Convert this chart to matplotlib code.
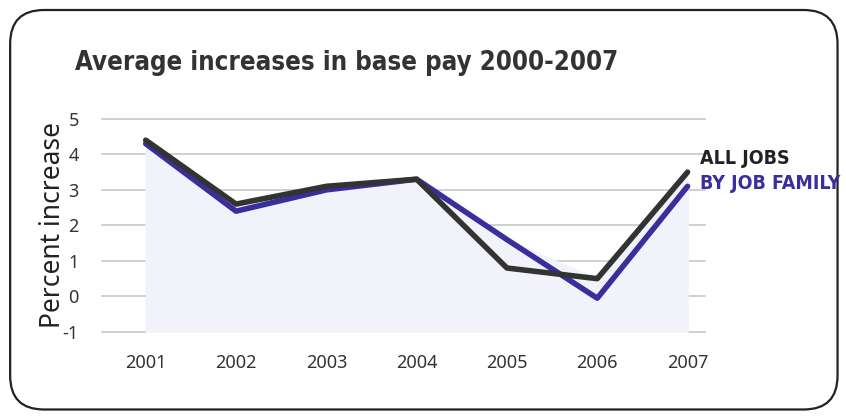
import numpy as np
import matplotlib
matplotlib.use('agg')
from matplotlib import pyplot as plt
from matplotlib.patches import FancyBboxPatch

years = [2001, 2002, 2003, 2004, 2005, 2006, 2007]
all_jobs = [4.4, 2.6, 3.1, 3.3, 0.8, 0.5, 3.5]
by_family = [4.3, 2.4, 3.0, 3.3, 1.6, -0.05, 3.1]
yticks = [-1, 0, 1, 2, 3, 4, 5]

black = '#333333'
blue = '#3a2e9c'
plt.rcParams['font.family'] = ['Noto Sans', 'DejaVu Sans']
plt.rcParams['axes.unicode_minus'] = False

fig = plt.figure(figsize=(8.46, 4.17), dpi=100)
fig.patches.append(FancyBboxPatch((0.012, 0.018), 0.978, 0.958,
                                  boxstyle='round,pad=0,rounding_size=0.04',
                                  transform=fig.transFigure, fill=False,
                                  ec='#222222', lw=1.6, mutation_aspect=846/417))

ax = fig.add_axes([0.121, 0.204, 0.712, 0.511])
ax.set_xlim(2000.52, 2007.19)
ax.set_ylim(-1, 5)
for y in yticks:
    ax.axhline(y, color='#c8c8c8', lw=1.2, zorder=0, clip_on=False)

ax.fill_between(years, np.maximum(all_jobs, by_family), -1, color='#f2f3fa', zorder=1)
ax.plot(years, by_family, color=blue, lw=4, solid_capstyle='round', zorder=3, clip_on=False)
ax.plot(years, all_jobs, color=black, lw=4, solid_capstyle='round', zorder=4, clip_on=False)

for s in ax.spines.values():
    s.set_visible(False)
ax.set_xticks(years)
ax.set_yticks(yticks)
ax.tick_params(length=0, labelsize=13, colors='#333333', pad=17)
ax.tick_params(axis='x', pad=16)
ax.set_ylabel('Percent increase', fontsize=19, color='#222222', labelpad=-3)

tfont = dict(fontweight='bold', family='DejaVu Sans', fontstretch='condensed')
fig.text(0.089, 0.85, 'Average increases in base pay 2000-2007', fontsize=18.5,
         color='#333333', va='center', **tfont)
fig.text(0.827, 0.62, 'ALL JOBS', fontsize=14, color='#222222', va='center', **tfont)
fig.text(0.827, 0.56, 'BY JOB FAMILY', fontsize=14, color=blue, va='center', **tfont)

plt.savefig('out.png', dpi=100)
plt.close()
